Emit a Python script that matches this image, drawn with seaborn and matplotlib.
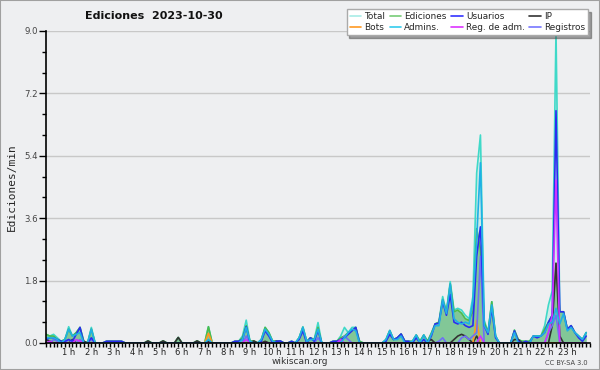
import numpy as np
import pandas as pd
import matplotlib
matplotlib.use("Agg")
import matplotlib.pyplot as plt
from matplotlib.lines import Line2D
from matplotlib.patches import Rectangle
import seaborn as sns

# datos cada 10 minutos (6 por hora, 144 puntos), ediciones por minuto
total = [
    .25, .2, .25, .15, .05, .1,      # 0 h
    .47, .2, .3, .45, .05, 0,        # 1 h
    .45, 0, 0, 0, .05, .05,          # 2 h
    .05, .05, .05, 0, 0, 0,          # 3 h
    0, 0, 0, .06, 0, 0,              # 4 h
    0, .06, 0, 0, 0, .16,            # 5 h
    0, 0, 0, 0, .06, 0,              # 6 h
    0, .47, 0, 0, 0, 0,              # 7 h
    0, 0, .05, .05, .2, .66,         # 8 h
    .05, .06, 0, .1, .45, .3,        # 9 h
    .05, .06, .06, 0, 0, .05,        # 10 h
    0, .15, .47, .05, .15, .1,       # 11 h
    .59, 0, 0, 0, .05, .05,          # 12 h
    .2, .45, .3, .45, .45, .05,      # 13 h
    0, 0, 0, 0, 0, 0,                # 14 h
    .1, .36, .1, .15, .26, .05,      # 15 h
    .05, .05, .23, .05, .23, .05,    # 16 h
    .28, .55, .6, 1.34, .9, 1.77,    # 17 h
    .95, 1.0, .95, .8, .7, 1.34,     # 18 h
    4.9, 6.0, .66, .3, 1.19, .2,     # 19 h
    0, 0, 0, 0, .37, .1,             # 20 h
    .05, .05, .05, .2, .2, .2,       # 21 h
    .5, 1.1, 1.5, 9.0, .9, .9,       # 22 h
    .4, .5, .3, .2, .1, .3,          # 23 h
]
ediciones = [
    .25, .2, .2, .1, .05, .1,
    .4, .2, .3, .45, .05, 0,
    .4, 0, 0, 0, .05, .05,
    .05, .05, .05, 0, 0, 0,
    0, 0, 0, .06, 0, 0,
    0, .06, 0, 0, 0, .16,
    0, 0, 0, 0, .06, 0,
    0, .47, 0, 0, 0, 0,
    0, 0, .05, .05, .15, .5,
    .05, .06, 0, .1, .45, .3,
    .05, .06, .06, 0, 0, .05,
    0, .15, .45, .05, .15, .1,
    .45, 0, 0, 0, .05, .05,
    .15, .2, .3, .35, .45, .05,
    0, 0, 0, 0, 0, 0,
    .1, .36, .1, .15, .26, .05,
    .05, .05, .23, .05, .23, .05,
    .28, .55, .6, 1.25, .9, 1.7,
    .9, .95, .86, .7, .65, .9,
    3.3, 2.7, .6, .3, 1.19, .2,
    0, 0, 0, 0, .37, .1,
    .05, .05, .05, .2, .2, .2,
    .4, .6, .8, 2.3, .9, .9,
    .4, .5, .3, .2, .1, .3,
]
usuarios = [
    .1, .15, .15, .1, .05, .05,
    .1, .05, .25, .45, 0, 0,
    .15, 0, 0, 0, .05, .05,
    .05, .05, .05, 0, 0, 0,
    0, 0, 0, 0, 0, 0,
    0, 0, 0, 0, 0, 0,
    0, 0, 0, 0, 0, 0,
    0, 0, 0, 0, 0, 0,
    0, 0, .05, .05, .1, .47,
    0, 0, 0, .05, .35, .2,
    0, .05, .06, 0, 0, .05,
    0, .1, .35, 0, .15, .05,
    .36, 0, 0, 0, .05, .05,
    .1, .15, .25, .35, .45, 0,
    0, 0, 0, 0, 0, 0,
    .05, .25, .1, .15, .26, .05,
    .05, 0, .15, 0, .1, 0,
    .2, .55, .57, 1.2, .8, 1.4,
    .6, .55, .6, .5, .45, .5,
    2.5, 3.35, .5, .25, 1.0, .15,
    0, 0, 0, 0, .35, .05,
    0, .05, 0, .2, .15, .2,
    .3, .6, .8, 6.7, .9, .9,
    .4, .5, .3, .15, .05, .2,
]
ip = [
    .1, .05, 0, 0, 0, 0,
    0, .1, 0, 0, .05, 0,
    0, 0, 0, 0, 0, 0,
    0, 0, 0, 0, 0, 0,
    0, 0, 0, .06, 0, 0,
    0, .06, 0, 0, 0, .16,
    0, 0, 0, 0, .06, 0,
    0, .05, 0, 0, 0, 0,
    0, 0, 0, 0, 0, 0,
    0, .06, 0, 0, .05, 0,
    0, .05, 0, 0, 0, 0,
    0, 0, 0, 0, 0, 0,
    0, 0, 0, 0, 0, 0,
    0, 0, 0, 0, 0, 0,
    0, 0, 0, 0, 0, 0,
    0, 0, 0, 0, 0, 0,
    0, 0, 0, 0, 0, .05,
    .1, 0, 0, 0, 0, 0,
    .1, .2, .25, .2, .1, 0,
    .2, 0, 0, 0, 0, 0,
    0, 0, 0, 0, .1, .1,
    0, 0, 0, 0, 0, 0,
    0, 0, .5, 2.3, .2, 0,
    0, 0, 0, 0, 0, 0,
]
bots = [0] * 43 + [.28] + [0] * 70 + [.66] + [0] * 29
admins = [
    .15, .15, .15, .1, 0, .1,
    .4, .2, .25, .3, 0, 0,
    .4, 0, 0, 0, 0, 0,
    0, 0, 0, 0, 0, 0,
    0, 0, 0, 0, 0, 0,
    0, 0, 0, 0, 0, 0,
    0, 0, 0, 0, 0, 0,
    0, .1, 0, 0, 0, 0,
    0, 0, 0, 0, .1, .45,
    .05, 0, 0, .1, .4, .25,
    .05, 0, 0, 0, 0, 0,
    0, .15, .45, .05, .1, .1,
    .4, 0, 0, 0, 0, 0,
    0, .15, .3, .4, .35, 0,
    0, 0, 0, 0, 0, 0,
    .1, .36, .1, .1, .2, 0,
    0, .05, .23, 0, .23, 0,
    .25, .5, .5, 1.25, .85, 1.7,
    .7, .6, .55, .6, .55, 1.2,
    3.0, 5.2, .5, .3, 1.1, .2,
    0, 0, 0, 0, .3, 0,
    0, 0, 0, .2, .2, .2,
    .3, .55, .6, 1.0, .55, .85,
    .35, .45, .3, .2, .1, .3,
]
reg_adm = [0] * 144
for i, v in [(1, .05), (8, .1), (9, .05), (53, .1), (78, .1), (115, .2), (133, .3), (134, .8), (135, 4.7)]:
    reg_adm[i] = v
registros = [0] * 144
for i, v in [(2, .1), (3, .05), (6, .1), (9, .1), (12, .1), (53, .2), (72, .15), (78, .05), (79, .2), (80, .1),
             (104, .05), (105, .15), (110, .15), (111, .2), (112, .1), (113, .2), (114, .3), (115, 2.5),
             (133, .3), (134, .5), (135, .8)]:
    registros[i] = v

horas = np.arange(144) / 6.0
etiquetas_x = [f"{h} h" for h in range(1, 24)]

df = pd.DataFrame({"hora": horas, "Total": total, "Ediciones": ediciones, "Usuarios": usuarios,
                   "IP": ip, "Bots": bots, "Admins.": admins, "Reg. de adm.": reg_adm,
                   "Registros": registros})

colores = {"Total": "#3fd9c8", "Ediciones": "#4cbb4c", "Usuarios": "#2b2bf0", "IP": "#333333",
           "Bots": "#ff9922", "Admins.": "#1fb0e6", "Reg. de adm.": "#cc33ff", "Registros": "#6f6ff5"}
colores_leyenda = {"Total": "#a8ece6", "Ediciones": "#77cc77", "Usuarios": "#3333ff", "IP": "#333333",
                   "Bots": "#ff9922", "Admins.": "#33ccee", "Reg. de adm.": "#dd33ff", "Registros": "#7777ff"}

sns.set_theme(style="white")
plt.rcParams['font.family'] = ['DejaVu Sans']
fondo = "#eeeff1"

fig = plt.figure(figsize=(6, 3.7), dpi=100, facecolor=fondo)
ax = fig.add_axes([46 / 600, 27 / 370, 544 / 600, 312 / 370], facecolor=fondo)

# areas
ax.fill_between(df["hora"], df["Total"], color="#3fd9c8", alpha=0.18, linewidth=0)
ax.fill_between(df["hora"], df["Ediciones"], color="#44aa55", alpha=0.55, linewidth=0)

orden = ["Total", "Ediciones", "IP", "Bots", "Registros", "Usuarios", "Reg. de adm.", "Admins."]
for s in orden:
    sns.lineplot(data=df, x="hora", y=s, color=colores[s], linewidth=1.2, ax=ax, legend=False)

ax.set_xlim(0, 24)
ax.set_ylim(0, 9.0)
ax.set_xlabel("")
ax.set_ylabel("Ediciones/min", family="DejaVu Sans Mono", fontsize=8, labelpad=5)

ax.set_xticks(range(1, 24))
ax.set_xticklabels(etiquetas_x, fontsize=6, color="#222222")
ax.set_xticks(np.arange(0, 24.01, 1 / 6), minor=True)
ax.set_yticks(np.arange(0, 9.01, 1.8))
ax.set_yticklabels([f"{v:.1f}" for v in np.arange(0, 9.01, 1.8)], fontsize=6.2, color="#444444")
ax.set_yticks(np.arange(0, 9.01, 0.6), minor=True)
ax.tick_params(axis="x", which="both", direction="out", length=3, width=1, color="black", pad=0.5, bottom=True)
ax.tick_params(axis="y", which="major", direction="out", length=5, width=1, color="black", pad=1, left=True)
ax.tick_params(axis="y", which="minor", direction="out", length=3, width=1, color="black", left=True)

ax.grid(axis="y", which="major", color="#c8c8c8", linewidth=1)
ax.set_axisbelow(True)
for lado in ["top", "right"]:
    ax.spines[lado].set_visible(False)
ax.spines["left"].set_color("black")
ax.spines["bottom"].set_color("black")
ax.spines["left"].set_linewidth(1.2)
ax.spines["bottom"].set_linewidth(1.2)

fig.text(154 / 600, 1 - 16 / 370, "Ediciones  2023-10-30", ha="center", va="center",
         fontsize=8, fontweight="bold", color="#111111")
fig.text(300 / 600, 1 - 362 / 370, "wikiscan.org", ha="center", va="center", fontsize=6.5, color="#333333")
fig.text(588 / 600, 1 - 363 / 370, "CC BY-SA 3.0", ha="right", va="center", fontsize=4.8, color="#444444")

# leyenda (rellena por columnas)
orden_leyenda = ["Total", "Bots", "Ediciones", "Admins.", "Usuarios", "Reg. de adm.", "IP", "Registros"]
manejadores = [Line2D([0], [0], color=colores_leyenda[s], linewidth=1.2) for s in orden_leyenda]
fig.legend(manejadores, orden_leyenda, loc="upper right", bbox_to_anchor=(588 / 600, 1 - 9 / 370),
           ncol=4, fontsize=6.4, frameon=True, fancybox=False, shadow=True, facecolor="white",
           edgecolor="#aaaaaa", handlelength=1.3, handletextpad=0.35, columnspacing=0.5,
           labelspacing=0.25, borderpad=0.35, borderaxespad=0)

fig.patches.append(Rectangle((0, 0), 1, 1, transform=fig.transFigure, fill=False,
                             edgecolor="#a0a0a0", linewidth=1.5))

fig.savefig("out.png", dpi=100, facecolor=fondo)
